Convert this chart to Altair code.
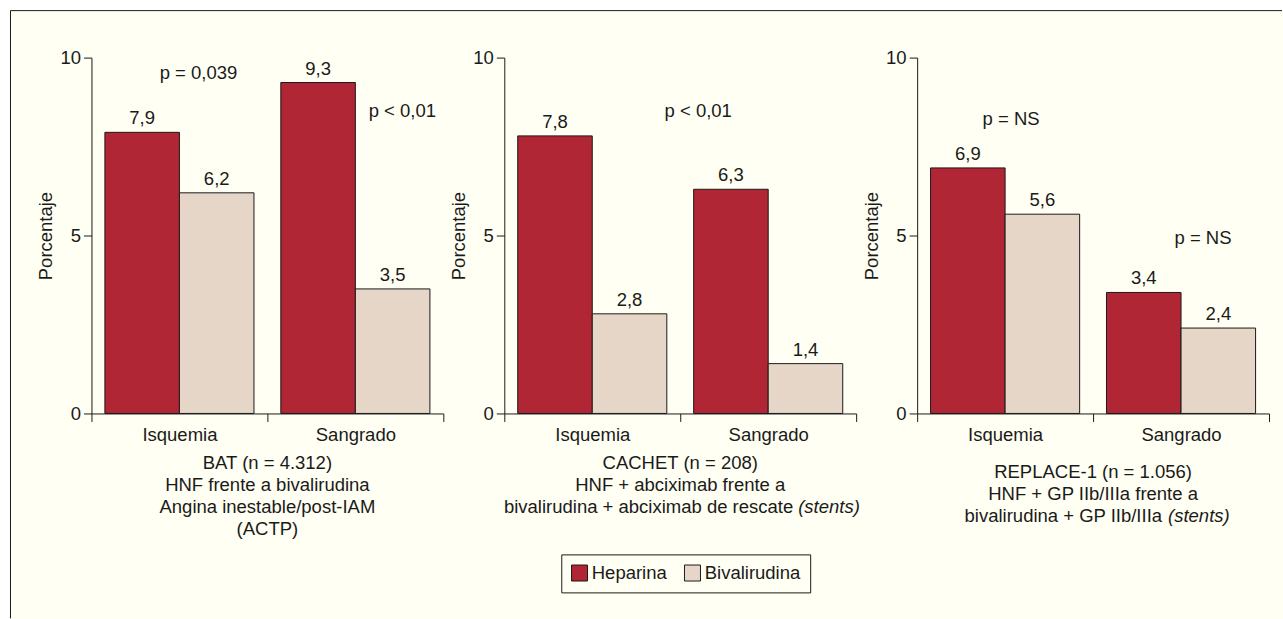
import altair as alt
import pandas as pd

# ---------------- data ----------------
panels = ["BAT", "CACHET", "REPLACE-1"]
categories = ["Isquemia", "Sangrado"]
groups = ["Heparina", "Bivalirudina"]
heparina = [[7.9, 9.3], [7.8, 6.3], [6.9, 3.4]]
bivalirudina = [[6.2, 3.5], [2.8, 1.4], [5.6, 2.4]]
y_ticks = [0, 5, 10]

p_labels = [["p = 0,039", "p < 0,01"], ["p < 0,01"], ["p = NS", "p = NS"]]
p_categories = [["Isquemia", "Sangrado"], ["Isquemia"], ["Isquemia", "Sangrado"]]
p_values = [[9.40, 8.33], [8.33], [8.12, 4.75]]
p_shift = [[19, 47], [106], [6, 22]]

subtitles = [
    ["BAT (n = 4.312)", "HNF frente a bivalirudina", "Angina inestable/post-IAM", "(ACTP)"],
    ["CACHET (n = 208)", "HNF + abciximab frente a", "bivalirudina + abciximab de rescate"],
    ["REPLACE-1 (n = 1.056)", "HNF + GP IIb/IIIa frente a", "bivalirudina + GP IIb/IIIa"],
]
subtitle_italic = ["", "(stents)", "(stents)"]

# ---------------- style ----------------
colors = ["#B02634", "#E5D6C8"]
BG = "#FFFFF3"
INK = "#1a1a1a"
FONT = "Liberation Sans"
FS = 18.5
W, H = 352, 356
sub_first = [50, 50, 59]
line_gap = 21.7
split_dx = [None, (113, 118), (69, 75)]


def fmt(v):
    return f"{v:.1f}".replace(".", ",")


x_enc = alt.X(
    "category:N",
    sort=categories,
    scale=alt.Scale(paddingInner=0, paddingOuter=0),
    axis=alt.Axis(title=None, labelAngle=0, tickBand="extent", tickSize=8,
                  labelPadding=4, labelFontSize=FS, domainColor=INK, tickColor=INK,
                  labelColor=INK, labelFont=FONT, zindex=1),
)
xoff_enc = alt.XOffset("group:N", sort=groups,
                       scale=alt.Scale(paddingInner=0, paddingOuter=0.18))
y_enc = alt.Y(
    "value:Q",
    scale=alt.Scale(domain=[0, 10], nice=False),
    axis=alt.Axis(title="Porcentaje", values=y_ticks, tickSize=8, labelPadding=3,
                  titlePadding=4, labelFontSize=FS, titleFontSize=FS,
                  titleFontWeight="normal", titleFont=FONT, labelFont=FONT,
                  domainColor=INK, tickColor=INK, labelColor=INK, titleColor=INK,
                  grid=False, zindex=1),
)


def make_panel(i):
    rows = []
    for j, c in enumerate(categories):
        rows.append({"category": c, "group": groups[0], "value": heparina[i][j],
                     "label": fmt(heparina[i][j])})
        rows.append({"category": c, "group": groups[1], "value": bivalirudina[i][j],
                     "label": fmt(bivalirudina[i][j])})
    df = pd.DataFrame(rows)
    layers = []

    if i == 0:
        one = pd.DataFrame({"k": [0]})
        frame = alt.Chart(one).mark_rect(fill=BG, stroke=None).encode(
            x=alt.value(-81), x2=alt.value(1192), y=alt.value(-47), y2=alt.value(562))
        top = alt.Chart(one).mark_rule(color=INK, strokeWidth=1).encode(
            x=alt.value(-81), x2=alt.value(1191), y=alt.value(-47))
        left = alt.Chart(one).mark_rule(color=INK, strokeWidth=1).encode(
            x=alt.value(-81), y=alt.value(-47), y2=alt.value(561))
        layers += [frame, top, left]

    bars = alt.Chart(df).mark_bar(stroke=INK, strokeWidth=1).encode(
        x=x_enc, xOffset=xoff_enc, y=y_enc,
        color=alt.Color("group:N", sort=groups,
                        scale=alt.Scale(domain=groups, range=colors),
                        legend=alt.Legend(title=None, orient="none", legendX=470, legendY=497,
                                          direction="horizontal", symbolType="square",
                                          symbolSize=256, symbolStrokeColor=INK,
                                          symbolStrokeWidth=1, strokeColor=INK,
                                          fillColor=BG, padding=9, labelFontSize=FS,
                                          labelFont=FONT, labelColor=INK, labelOffset=3,
                                          columnPadding=15, labelLimit=300)),
    )
    labels = alt.Chart(df).mark_text(baseline="alphabetic", dy=-8, fontSize=FS,
                                     font=FONT, color=INK).encode(
        x=x_enc, xOffset=xoff_enc, y=y_enc, text="label:N")
    layers += [bars, labels]

    for lab, cat, val, sh in zip(p_labels[i], p_categories[i], p_values[i], p_shift[i]):
        pdf = pd.DataFrame({"category": [cat], "value": [val], "label": [lab]})
        layers.append(
            alt.Chart(pdf).mark_text(baseline="alphabetic", dx=sh, fontSize=FS,
                                     font=FONT, color=INK).encode(
                x=x_enc, y=y_enc, text="label:N"))

    lines = subtitles[i]
    for k, line in enumerate(lines):
        ypix = H + sub_first[i] + k * line_gap
        ldf = pd.DataFrame({"t": [line]})
        is_last = k == len(lines) - 1
        if is_last and subtitle_italic[i]:
            a, b = split_dx[i]
            layers.append(alt.Chart(ldf).mark_text(align="right", baseline="middle",
                                                   fontSize=FS, font=FONT, color=INK).encode(
                x=alt.value(W / 2 + a), y=alt.value(ypix), text="t:N"))
            idf = pd.DataFrame({"t": [subtitle_italic[i]]})
            layers.append(alt.Chart(idf).mark_text(align="left", baseline="middle",
                                                   fontSize=FS, font=FONT, fontStyle="italic",
                                                   color=INK).encode(
                x=alt.value(W / 2 + b), y=alt.value(ypix), text="t:N"))
        else:
            layers.append(alt.Chart(ldf).mark_text(align="center", baseline="middle",
                                                   fontSize=FS, font=FONT, color=INK).encode(
                x=alt.value(W / 2), y=alt.value(ypix), text="t:N"))

    return alt.layer(*layers).properties(width=W, height=H)


chart = alt.hconcat(*[make_panel(i) for i in range(3)], spacing=61, bounds="flush").properties(
    background="white",
    padding={"left": 9.5, "top": 9.5, "right": 0, "bottom": 0},
).configure(font=FONT, view=alt.ViewConfig(stroke=None))

chart.save("out.html", embed_options={"renderer": "svg", "actions": False})
